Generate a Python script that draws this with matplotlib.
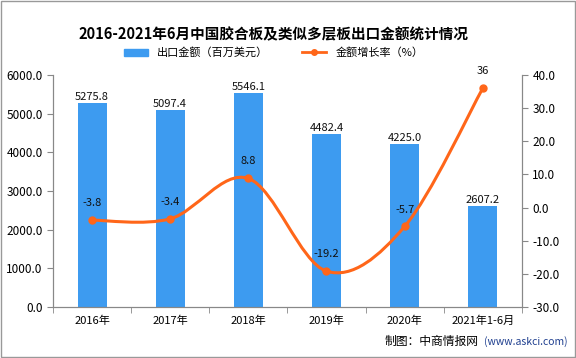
import numpy as np
import matplotlib
matplotlib.use("Agg")
import matplotlib.pyplot as plt
from matplotlib.path import Path
from matplotlib.patches import PathPatch, Rectangle
from matplotlib.lines import Line2D

plt.rcParams['font.family'] = ['Noto Sans CJK SC', 'DejaVu Sans']

years = ['2016年', '2017年', '2018年', '2019年', '2020年', '2021年1-6月']
amount = [5275.8, 5097.4, 5546.1, 4482.4, 4225.0, 2607.2]
growth = [-3.8, -3.4, 8.8, -19.2, -5.7, 36]
growth_labels = ['-3.8', '-3.4', '8.8', '-19.2', '-5.7', '36']

bar_c = '#3d9bf0'
line_c = '#ff6619'

fig = plt.figure(figsize=(5.76, 3.58), dpi=100)
ax = fig.add_axes([0.092, 0.1425, 0.814, 0.648])
ax2 = ax.twinx()

x = np.arange(len(years))
bars = ax.bar(x, amount, width=0.37, color=bar_c, zorder=2)
for xi, v in zip(x, amount):
    ax.text(xi, v + 20, '%.1f' % v, ha='center', va='bottom', fontsize=8, color='#111111')

ax.set_xlim(-0.5, len(years) - 0.5)
ax.set_ylim(0, 6000)
ax.set_yticks(np.arange(0, 6001, 1000))
ax.set_yticklabels(['%.1f' % t for t in np.arange(0, 6001, 1000)], fontsize=8.5)
ax.set_xticks(x)
ax.set_xticklabels(years, fontsize=8)
ax.set_xticks(np.arange(-0.5, len(years)), minor=True)
ax.tick_params(axis='x', which='major', length=0, pad=6)
ax.tick_params(axis='x', which='minor', length=4, color='#888888')
ax.tick_params(axis='y', length=4, color='#888888')

ax2.set_ylim(-30, 40)
ax2.set_yticks(np.arange(-30, 41, 10))
ax2.set_yticklabels(['%.1f' % t for t in np.arange(-30, 41, 10)], fontsize=8.5)
ax2.tick_params(axis='y', length=4, color='#888888')

for a in (ax, ax2):
    a.spines['top'].set_visible(False)
    for s in ('left', 'right', 'bottom'):
        a.spines[s].set_color('#888888')

# smooth line through the growth points (Catmull-Rom as cubic Bezier)
pts = np.column_stack([x, growth]).astype(float)
verts = [tuple(pts[0])]
codes = [Path.MOVETO]
n = len(pts)
for i in range(n - 1):
    p0 = pts[i - 1] if i > 0 else pts[i]
    p1 = pts[i]
    p2 = pts[i + 1]
    p3 = pts[i + 2] if i + 2 < n else pts[i + 1]
    c1 = p1 + (p2 - p0) / 6
    c2 = p2 - (p3 - p1) / 6
    verts += [tuple(c1), tuple(c2), tuple(p2)]
    codes += [Path.CURVE4] * 3
ax2.add_patch(PathPatch(Path(verts, codes), fill=False, edgecolor=line_c, lw=2.2, zorder=3))
ax2.plot(x, growth, 'o', color=line_c, ms=5, zorder=4)
for xi, v, lb in zip(x, growth, growth_labels):
    ax2.text(xi, v + 3.6, lb, ha='center', va='bottom', fontsize=8, color='#111111')

fig.text(0.475, 0.905, '2016-2021年6月中国胶合板及类似多层板出口金额统计情况',
         ha='center', va='center', fontsize=10.5, fontweight='bold')

handles = [Rectangle((0, 0), 1, 1, color=bar_c),
           Line2D([0], [0], color=line_c, lw=2, marker='o', ms=4)]
fig.legend(handles, ['出口金额（百万美元）', '金额增长率（%）'], loc='center',
           bbox_to_anchor=(0.475, 0.853), ncol=2, frameon=False, fontsize=8,
           handlelength=2.2, handleheight=0.6, columnspacing=3)

fig.text(0.668, 0.045, '制图：中商情报网', fontsize=8.5, va='center', ha='left')
fig.text(0.84, 0.045, '(www.askci.com)', fontsize=7.5, va='center', ha='left', color='#1f3f8f')

fig.patches.append(Rectangle((0.001, 0.002), 0.997, 0.995, transform=fig.transFigure,
                             fill=False, edgecolor='#999999', lw=1))

fig.savefig('out.png', dpi=100)
